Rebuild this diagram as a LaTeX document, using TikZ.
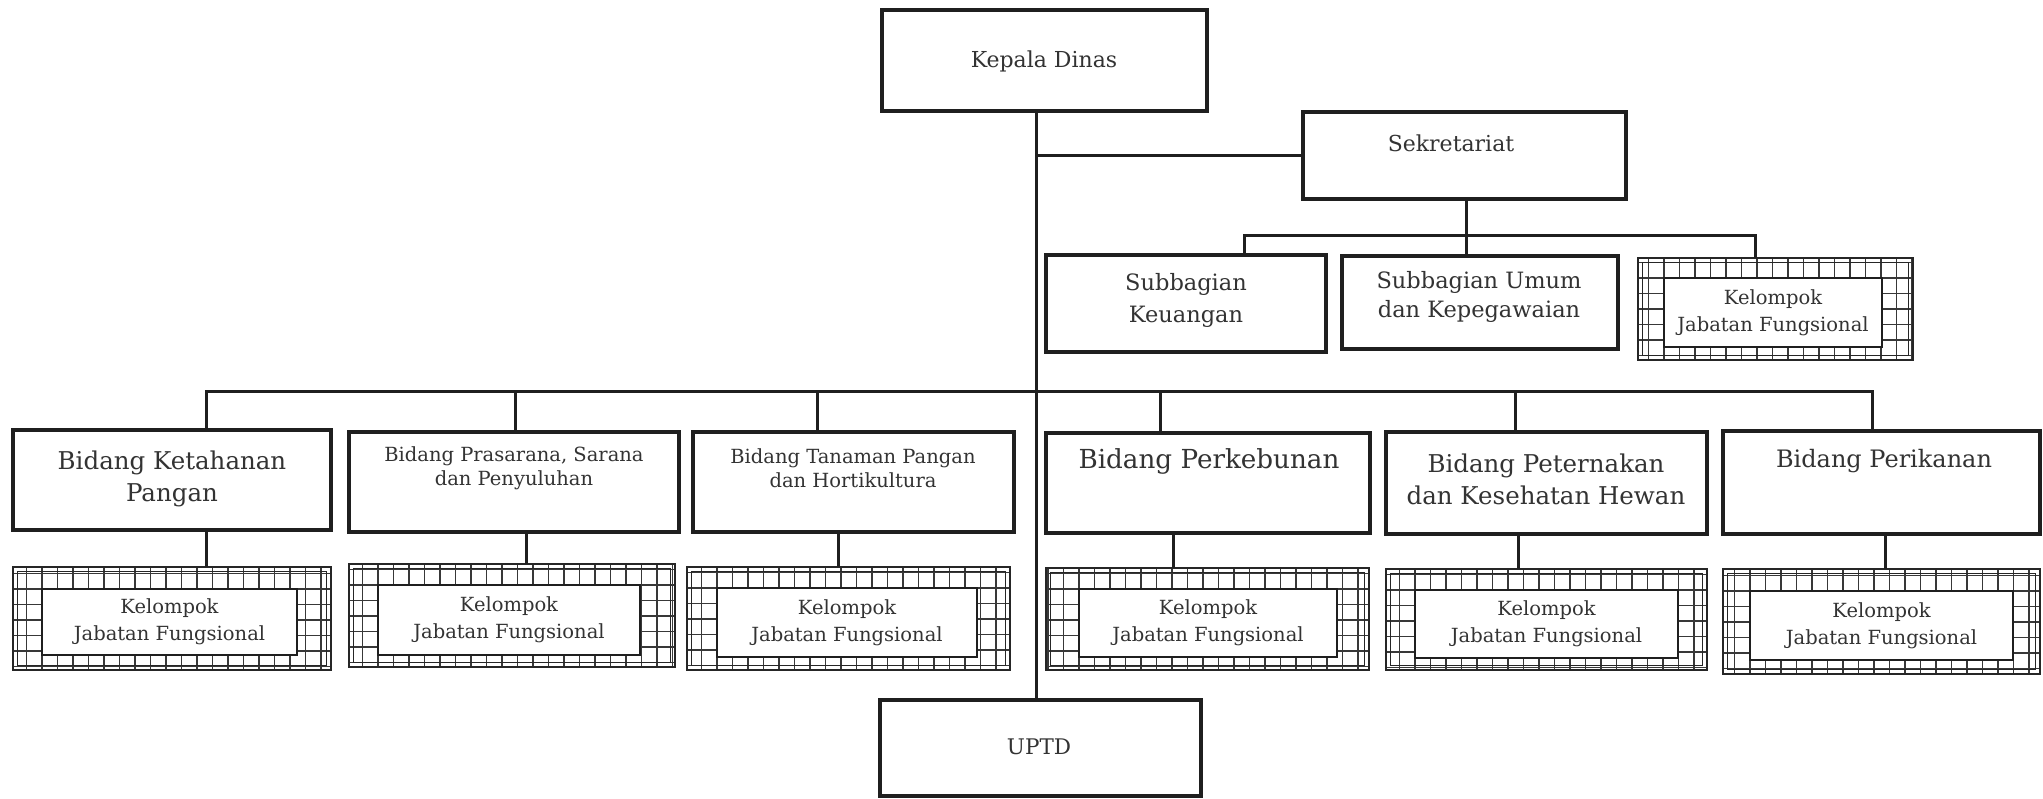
\documentclass[tikz,border=0pt]{standalone}
\usepackage{fontspec}
\setmainfont{DejaVu Serif}
\newcommand\szL{\fontsize{24.5}{32}\selectfont}
\newcommand\szX{\fontsize{26.2}{32}\selectfont}
\newcommand\szY{\fontsize{24}{32}\selectfont}
\newcommand\szM{\fontsize{22}{28}\selectfont}
\newcommand\szU{\fontsize{21.5}{24}\selectfont}
\newcommand\szB{\fontsize{22.5}{32}\selectfont}
\newcommand\szC{\fontsize{22.5}{29}\selectfont}
\newcommand\szS{\fontsize{19.5}{24}\selectfont}
\newcommand\szK{\fontsize{19.5}{27}\selectfont}
\newcommand\bx[5]{\node[box, minimum width={#4-#2}, minimum height={#5-#3}] (#1) at ({(#2+#4)/2},{(#3+#5)/2}) {};}
\newcommand\kel[9]{%
  \fill[white] (#2,#3) rectangle (#4,#5);
  \begin{scope}
    \clip (#2,#3) rectangle (#4,#5);
    \begin{scope}[shift={(#6,#7)}]
      \draw[gridl, step=15.5pt] ({#2-#6-20},{#3-#7-20}) grid ({#4-#6+20},{#5-#7+20});
    \end{scope}
  \end{scope}
  \draw[line width=2.3pt, black!85] (#2,#3) rectangle (#4,#5);
  \draw[line width=1.9pt, black!85] ({#2+4.5},{#3+4.5}) rectangle ({#4-4.5},{#5-4.5});
  \node[inner sep=0pt, minimum width={#4-#2}, minimum height={#5-#3}] (#1o) at ({(#2+#4)/2},{(#3+#5)/2}) {};
  \node[box, line width=2.8pt, minimum width={#8-#6}, minimum height={#9-#7}] (#1) at ({(#6+#8)/2},{(#7+#9)/2}) {};
  \node[tx, font=\szK] (#1t) at (#1) {Kelompok\\Jabatan Fungsional};
}
\begin{document}
\begin{tikzpicture}[x=1pt,y=-1pt,
  box/.style={draw=black!88, line width=3.2pt, fill=white, inner sep=0pt},
  ln/.style={draw=black!88, line width=3pt},
  tx/.style={text=black!80, align=center, inner sep=0pt},
  gridl/.style={draw=black!78, line width=1.6pt}]
\useasboundingbox[fill=white] (0,0) rectangle (2043,798);

% boxes
\bx{kd}{882}{10}{1207}{111}
\bx{sk}{1303}{112}{1626}{199}
\bx{su1}{1046}{255}{1326}{352}
\bx{su2}{1342}{256}{1618}{349}
\kel{ks}{1638}{258}{1913}{360}{1664}{278}{1882}{347}
\bx{b1}{13}{430}{331}{530}
\bx{b2}{349}{432}{679}{532}
\bx{b3}{693}{432}{1014}{532}
\bx{b4}{1046}{433}{1370}{533}
\bx{b5}{1386}{432}{1707}{534}
\bx{b6}{1723}{431}{2040}{534}
\kel{k1}{13}{567}{331}{670}{42}{589}{297}{655}
\kel{k2}{349}{564}{675}{667}{378}{585}{640}{655}
\kel{k3}{687}{567}{1010}{670}{717}{588}{977}{657}
\kel{k4}{1046}{568}{1369}{670}{1079}{589}{1337}{657}
\kel{k5}{1386}{569}{1707}{670}{1415}{590}{1678}{658}
\kel{k6}{1723}{569}{2040}{674}{1750}{591}{2013}{660}
\bx{up}{880}{700}{1201}{796}

% texts
\node[tx, font=\szM] (kdt) at (1044,61) {Kepala Dinas};
\node[tx, font=\szM] (skt) at (1451,143) {Sekretariat};
\node[tx, font=\szB] (su1t) at (1186,300) {Subbagian\\Keuangan};
\node[tx, font=\szC] (su2t) at (1479,297) {Subbagian Umum\\dan Kepegawaian};
\node[tx, font=\szL] (b1t) at (172,479) {Bidang Ketahanan\\Pangan};
\node[tx, font=\szS] (b2t) at (514,468) {Bidang Prasarana, Sarana\\dan Penyuluhan};
\node[tx, font=\szS] (b3t) at (853,468) {Bidang Tanaman Pangan\\dan Hortikultura};
\node[tx, font=\szX] (b4t) at (1209,461) {Bidang Perkebunan};
\node[tx, font=\szL] (b5t) at (1546,479) {Bidang Peternakan\\dan Kesehatan Hewan};
\node[tx, font=\szY] (b6t) at (1884,461) {Bidang Perikanan};
\node[tx, font=\szU] (upt) at (1039,747) {UPTD};

% connector coordinates
\coordinate (tr) at (1036,0);
\coordinate (s0) at (1466,0);
\coordinate (sbL) at (1244,235);
\coordinate (sbR) at (1755,235);
\coordinate (mbL) at (206,391);
\coordinate (mbR) at (1872,391);
\coordinate (u2) at (515,0);
\coordinate (u3) at (817,0);
\coordinate (u4) at (1160,0);
\coordinate (u5) at (1515,0);
\coordinate (d1) at (206,0);
\coordinate (d2) at (526,0);
\coordinate (d3) at (838,0);
\coordinate (d4) at (1173,0);
\coordinate (d5) at (1518,0);
\coordinate (d6) at (1885,0);

% connectors
\draw[ln] (kd.south -| tr) -- (up.north -| tr);
\draw[ln] (tr |- sk.west) -- (sk.west);
\draw[ln] (sk.south -| s0) -- (su2.north -| s0);
\draw[ln] (su1.north -| sbL) -- (sbL) -- (sbR) -- (kso.north -| sbR);
\draw[ln] (b1.north -| mbL) -- (mbL) -- (mbR) -- (b6.north -| mbR);
\draw[ln] (b2.north -| u2) -- (u2 |- mbL);
\draw[ln] (b3.north -| u3) -- (u3 |- mbL);
\draw[ln] (b4.north -| u4) -- (u4 |- mbL);
\draw[ln] (b5.north -| u5) -- (u5 |- mbL);
\draw[ln] (b1.south -| d1) -- (k1o.north -| d1);
\draw[ln] (b2.south -| d2) -- (k2o.north -| d2);
\draw[ln] (b3.south -| d3) -- (k3o.north -| d3);
\draw[ln] (b4.south -| d4) -- (k4o.north -| d4);
\draw[ln] (b5.south -| d5) -- (k5o.north -| d5);
\draw[ln] (b6.south -| d6) -- (k6o.north -| d6);
\end{tikzpicture}
\end{document}
